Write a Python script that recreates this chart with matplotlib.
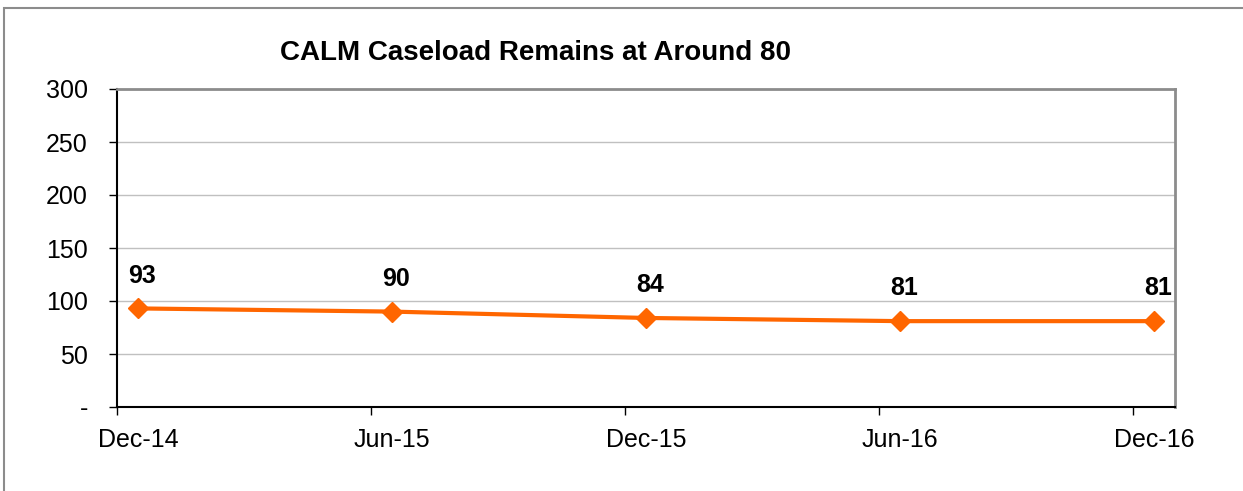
import matplotlib
matplotlib.use("Agg")
import matplotlib.pyplot as plt
from matplotlib.patches import Rectangle

plt.rcParams['font.family'] = ['Liberation Sans', 'DejaVu Sans']

# data
periods = ["Dec-14", "Jun-15", "Dec-15", "Jun-16", "Dec-16"]
caseload = [93, 90, 84, 81, 81]
yticks = [0, 50, 100, 150, 200, 250, 300]
ylabels = ["-", "50", "100", "150", "200", "250", "300"]

W, H = 1243, 491
fig = plt.figure(figsize=(W / 100, H / 100), dpi=100)
ax = fig.add_axes([117 / W, 1 - 407 / H, (1175 - 117) / W, (407 - 89) / H])

# outer chart frame (only left and top visible)
fig.add_artist(Rectangle((4 / W, -0.1), 1.2, 1.1 - 8 / H, transform=fig.transFigure,
                         fill=False, edgecolor="#8c8c8c", linewidth=1.5))

# points sit a bit after each tick (date axis offset)
xpos = [i + 0.083 for i in range(len(periods))]
ax.plot(xpos, caseload, color="#ff6600", linewidth=3, marker="D", markersize=10,
        clip_on=False, zorder=3)
for x, v in zip(xpos, caseload):
    ax.annotate(str(v), (x, v), xytext=(3, 15), textcoords="offset points",
                ha="center", va="bottom", fontsize=18, fontweight="bold")

ax.set_xlim(0, 4.165)
ax.set_ylim(0, 300)
# tick marks at period boundaries, labels under the points
ax.set_xticks(range(len(periods)))
ax.set_xticklabels([])
ax.set_xticks(xpos, minor=True)
ax.set_xticklabels(periods, minor=True, fontsize=18)
ax.set_yticks(yticks)
ax.set_yticklabels(ylabels, fontsize=18)
ax.tick_params(axis="y", length=6, width=1, direction="out", pad=15)
ax.tick_params(axis="x", which="major", length=6, width=1, direction="out")
ax.tick_params(axis="x", which="minor", length=6, width=0, pad=9)
ax.yaxis.grid(True, color="#c0c0c0", linewidth=1)
ax.set_axisbelow(True)

for s in ["left", "bottom"]:
    ax.spines[s].set_color("black")
    ax.spines[s].set_linewidth(1.5)
for s in ["top", "right"]:
    ax.spines[s].set_color("#8c8c8c")
    ax.spines[s].set_linewidth(2)

fig.text(535 / W, 1 - 53 / H, "CALM Caseload Remains at Around 80", ha="center",
         va="center", fontsize=20, fontweight="bold")

fig.savefig("out.png", dpi=100)
